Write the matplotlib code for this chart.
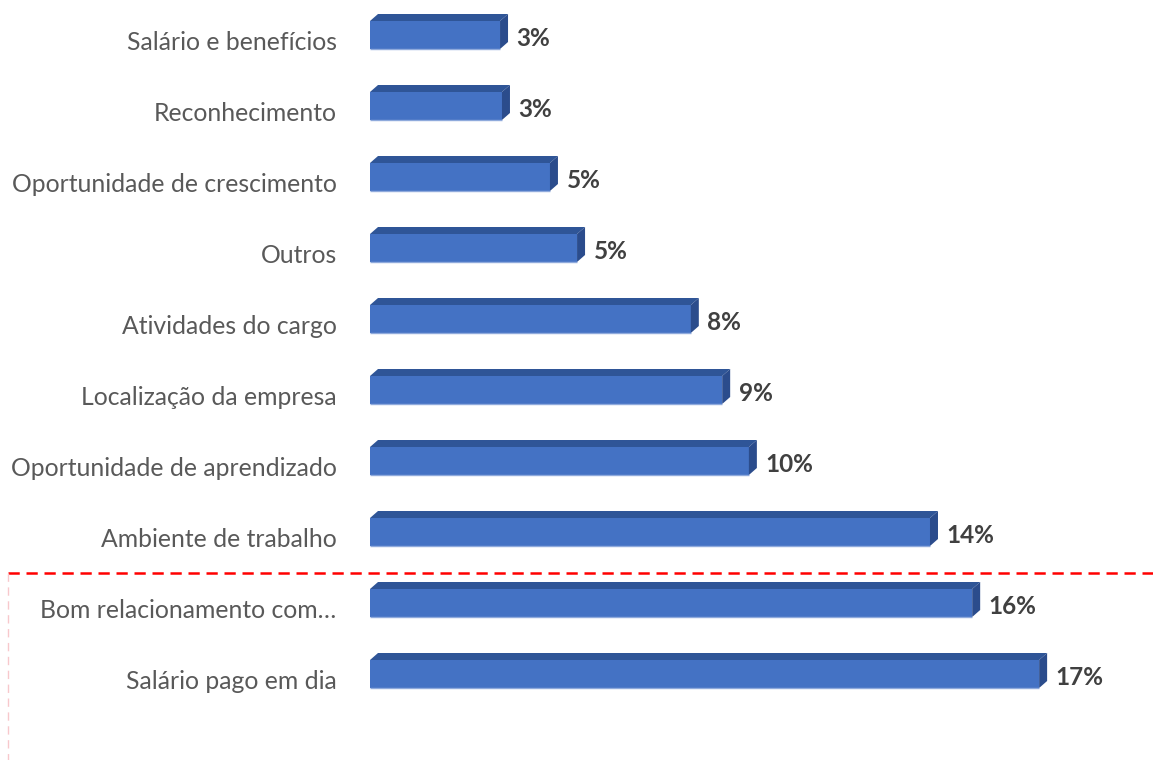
import matplotlib
matplotlib.use("Agg")
import matplotlib.pyplot as plt
from matplotlib.patches import Polygon
from matplotlib.lines import Line2D

categories = [
    "Salário e benefícios",
    "Reconhecimento",
    "Oportunidade de crescimento",
    "Outros",
    "Atividades do cargo",
    "Localização da empresa",
    "Oportunidade de aprendizado",
    "Ambiente de trabalho",
    "Bom relacionamento com…",
    "Salário pago em dia",
]
values = [3.36, 3.41, 4.65, 5.35, 8.29, 9.10, 9.79, 14.47, 15.56, 17.29]

plt.rcParams['font.family'] = ['Lato', 'DejaVu Sans']

W, H = 1153, 760
fig = plt.figure(figsize=(W / 100, H / 100), dpi=100)
x0 = 370
ax = fig.add_axes([x0 / W, 0, 1 - x0 / W, 1])
px_per_unit = 38.7
row = 71.0
ax.set_xlim(0, (W - x0) / px_per_unit)
ax.set_ylim((H - 35) / row, -35 / row)
ax.axis('off')

front = "#4472C4"
top_c = "#2F5597"
side_c = "#2B4C8C"
h = 28 / row
dx = 8 / px_per_unit
dy = 7 / row

ypos = list(range(len(categories)))
ax.barh(ypos, values, height=h, color=front, edgecolor='none', zorder=2)
for y, v in zip(ypos, values):
    t = y - h / 2
    b = y + h / 2
    ax.add_patch(Polygon([(0, t), (v, t), (v + dx, t - dy), (dx, t - dy)],
                         closed=True, facecolor=top_c, edgecolor='none', zorder=3))
    ax.add_patch(Polygon([(v, t), (v + dx, t - dy), (v + dx, b - dy), (v, b)],
                         closed=True, facecolor=side_c, edgecolor='none', zorder=3))
    ax.plot([0, v], [b, b], color="#8FAADC", lw=1, zorder=4, solid_capstyle='butt')
    ax.annotate(f"{v:.0f}%", xy=(v, y), xytext=(12, -2.5), textcoords='offset points',
                ha='left', va='center', fontsize=17.5, fontweight='bold', color='#404040')
    ax.annotate(categories[y], xy=(0, y), xytext=(-24, -5.5), textcoords='offset points',
                ha='right', va='center', fontsize=17.8, color='#595959', annotation_clip=False)

# separator and highlight box
fig.add_artist(Line2D([8 / W, 1], [1 - 573 / H, 1 - 573 / H], color='#FF0000', lw=1.8,
                      dashes=(4.5, 2.7), transform=fig.transFigure))
fig.add_artist(Line2D([8 / W, 8 / W], [1 - 573 / H, 0], color='#F8C8CC', lw=1,
                      dashes=(6, 4), transform=fig.transFigure))

fig.savefig("out.png", dpi=100)
